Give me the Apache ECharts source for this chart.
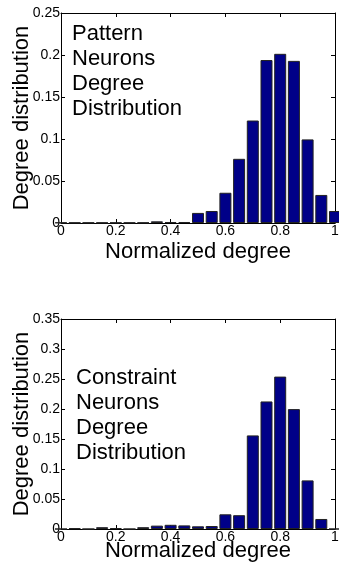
<!DOCTYPE html>
<html>
<head>
<meta charset="utf-8">
<script src="https://cdn.jsdelivr.net/npm/echarts@6/dist/echarts.min.js"></script>
<style>
  html, body { margin: 0; padding: 0; background: #fff; }
  #chart { width: 339px; height: 565px; }
</style>
</head>
<body>
<div id="chart"></div>
<script>
// bin centres (normalized degree)
var binCenters = [0, 0.05, 0.1, 0.15, 0.2, 0.25, 0.3, 0.35, 0.4, 0.45, 0.5,
                  0.55, 0.6, 0.65, 0.7, 0.75, 0.8, 0.85, 0.9, 0.95, 1.0];
// pattern neurons
var patternValues = [0.0005, 0.0005, 0.0005, 0.0005, 0.0005, 0.0005, 0.0005, 0.002, 0.0012, 0.0012, 0.012,
                     0.0143, 0.036, 0.0764, 0.122, 0.194, 0.2014, 0.193, 0.0995, 0.0334, 0.0143];
// constraint neurons
var constraintValues = [0, 0.0012, 0, 0.003, 0.0015, 0, 0.003, 0.0056, 0.007, 0.006, 0.0045,
                        0.005, 0.0245, 0.023, 0.156, 0.2126, 0.254, 0.1998, 0.081, 0.0167, 0];
var xTicks = [0, 0.2, 0.4, 0.6, 0.8, 1];
var patternYMax = 0.25;
var constraintYMax = 0.35;

var myChart = echarts.init(document.getElementById('chart'));
var font = 'Liberation Sans, Arial, Helvetica, sans-serif';

function pairs(vals) {
    var res = [];
    for (var i = 0; i < binCenters.length; i++) {
        res.push([binCenters[i], vals[i]]);
    }
    return res;
}

var lineStyle = { color: '#000', width: 1 };
var tickStyle = { show: true, inside: true, length: 4, lineStyle: { color: '#000' } };

function xAxes(gridIndex, nameGap) {
    return [{
        gridIndex: gridIndex,
        type: 'value', min: xTicks[0], max: xTicks[xTicks.length - 1], interval: 0.2,
        position: 'bottom',
        name: 'Normalized degree', nameLocation: 'middle', nameGap: nameGap, nameMoveOverlap: false,
        nameTextStyle: { fontFamily: font, fontSize: 22, color: '#000' },
        axisLine: { show: true, onZero: false, lineStyle: lineStyle },
        axisTick: tickStyle,
        axisLabel: { fontFamily: font, fontSize: 14, color: '#000', margin: 1 },
        splitLine: { show: false }
    }, {
        gridIndex: gridIndex,
        type: 'value', min: xTicks[0], max: xTicks[xTicks.length - 1], interval: 0.2,
        position: 'top',
        axisLine: { show: true, onZero: false, lineStyle: lineStyle },
        axisTick: tickStyle,
        axisLabel: { show: false },
        splitLine: { show: false }
    }];
}

function yAxes(gridIndex, max) {
    return [{
        gridIndex: gridIndex,
        type: 'value', min: 0, max: max, interval: 0.05,
        position: 'left',
        name: 'Degree distribution', nameLocation: 'middle', nameGap: 28, nameMoveOverlap: false,
        nameTextStyle: { fontFamily: font, fontSize: 22, color: '#000' },
        axisLine: { show: true, onZero: false, lineStyle: lineStyle },
        axisTick: tickStyle,
        axisLabel: { fontFamily: font, fontSize: 14, color: '#000', margin: 1 },
        splitLine: { show: false }
    }, {
        gridIndex: gridIndex,
        type: 'value', min: 0, max: max, interval: 0.05,
        position: 'right',
        axisLine: { show: true, onZero: false, lineStyle: lineStyle },
        axisTick: tickStyle,
        axisLabel: { show: false },
        splitLine: { show: false }
    }];
}

var barStyle = { color: '#000088', borderColor: '#222', borderWidth: 1 };

var option = {
    animation: false,
    grid: [
        { left: 61, right: 4, top: 13, height: 210, outerBoundsMode: 'none', containLabel: false },
        { left: 61, right: 4, top: 319, height: 210, outerBoundsMode: 'none', containLabel: false }
    ],
    xAxis: xAxes(0, 18).concat(xAxes(1, 11)),
    yAxis: yAxes(0, patternYMax).concat(yAxes(1, constraintYMax)),
    graphic: [{
        type: 'text', left: 72, top: 21,
        style: { text: 'Pattern\nNeurons\nDegree\nDistribution', font: '22px ' + font, lineHeight: 25, fill: '#000' }
    }, {
        type: 'text', left: 76, top: 365,
        style: { text: 'Constraint\nNeurons\nDegree\nDistribution', font: '22px ' + font, lineHeight: 25, fill: '#000' }
    }],
    series: [{
        type: 'bar', xAxisIndex: 0, yAxisIndex: 0,
        data: pairs(patternValues), barWidth: 12, itemStyle: barStyle
    }, {
        type: 'bar', xAxisIndex: 2, yAxisIndex: 2,
        data: pairs(constraintValues), barWidth: 12, itemStyle: barStyle
    }]
};
myChart.setOption(option);
</script>
</body>
</html>
